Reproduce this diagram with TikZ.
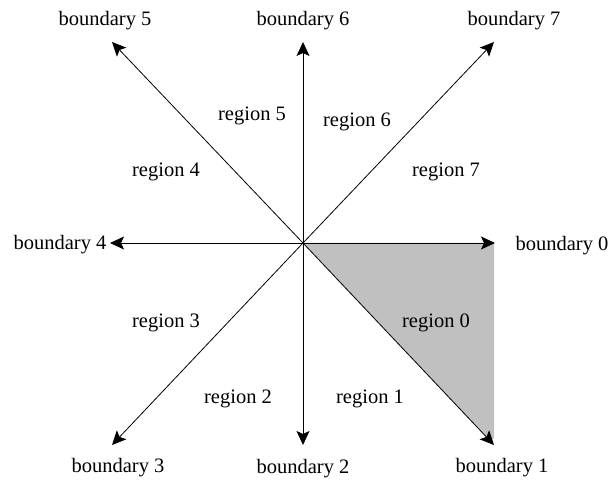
\documentclass[tikz,border=0pt]{standalone}
\usepackage{fontspec}
\setmainfont{Liberation Serif}
\usetikzlibrary{arrows.meta,calc}
\begin{document}
\begin{tikzpicture}[x=1pt,y=-1pt,
  lbl/.style={font=\fontsize{20.5}{23}\selectfont, inner sep=0pt},
  bnd/.style={draw=black, line width=0.8pt, -{Stealth[length=14pt,width=13pt,inset=3pt]}}]
\useasboundingbox (0,0) rectangle (611,486);
\coordinate (c) at (303,243);
\coordinate (t0) at (495,243);
\coordinate (t1) at (494,445);
\coordinate (t2) at (303,445);
\coordinate (t3) at (112,445);
\coordinate (t4) at (110,243);
\coordinate (t5) at (112,42);
\coordinate (t6) at (303,42);
\coordinate (t7) at (494,42);
\fill[fill={rgb,255:red,192;green,192;blue,192}] (c) -- (494,243) -- (494,438) -- ($(c)!(494,438)!(t1)$) -- cycle;
\foreach \i in {0,...,7} { \draw[bnd] (c) -- (t\i); }
\node[lbl] (b0) at (562,246) {boundary 0};
\node[lbl] (b1) at (502,468) {boundary 1};
\node[lbl] (b2) at (303,469) {boundary 2};
\node[lbl] (b3) at (118,468) {boundary 3};
\node[lbl] (b4) at (60,245) {boundary 4};
\node[lbl] (b5) at (105,21) {boundary 5};
\node[lbl] (b6) at (303,21) {boundary 6};
\node[lbl] (b7) at (514,21) {boundary 7};
\node[lbl] (r0) at (436,323) {region 0};
\node[lbl] (r1) at (370,399) {region 1};
\node[lbl] (r2) at (238,399) {region 2};
\node[lbl] (r3) at (166,323) {region 3};
\node[lbl] (r4) at (166,172) {region 4};
\node[lbl] (r5) at (252,116) {region 5};
\node[lbl] (r6) at (357,122) {region 6};
\node[lbl] (r7) at (446,172) {region 7};
\end{tikzpicture}
\end{document}
